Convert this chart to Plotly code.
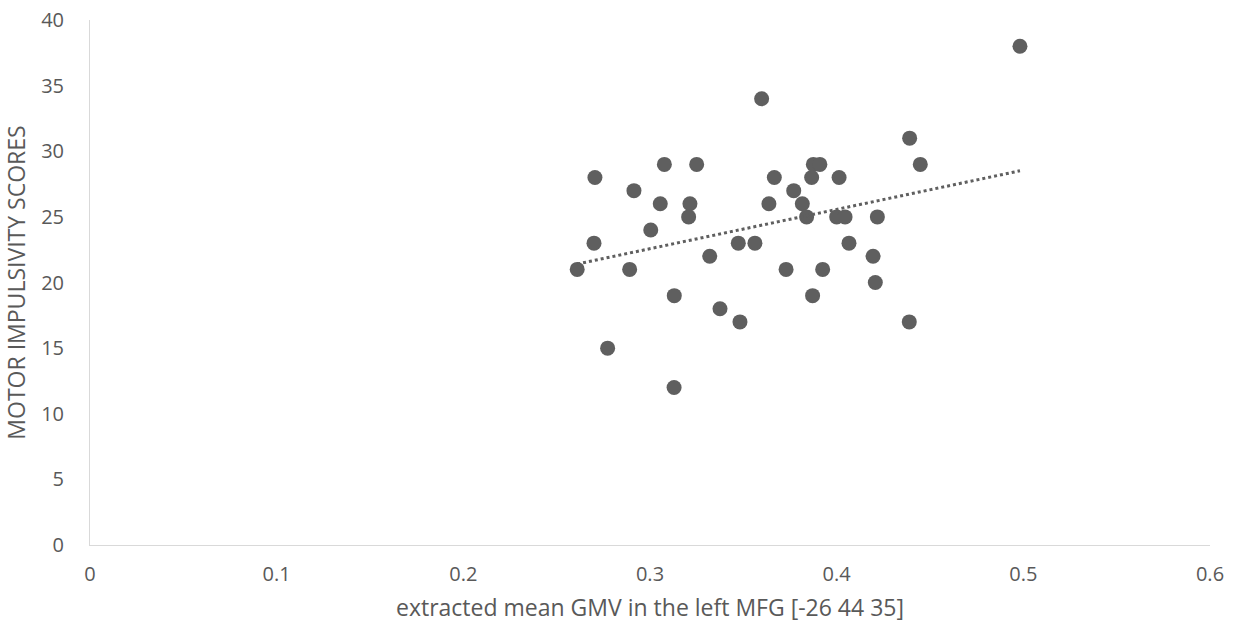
import numpy as np
import plotly.graph_objects as go

gmv = [0.3598, 0.3077, 0.3250, 0.3875, 0.3910, 0.2705, 0.3666, 0.3866, 0.4013,
       0.2914, 0.3770, 0.3055, 0.3214, 0.3637, 0.3816, 0.3207, 0.3839, 0.4000,
       0.4045, 0.4218, 0.3004, 0.2700, 0.3473, 0.3562, 0.4066, 0.3320, 0.4195,
       0.2610, 0.2891, 0.3729, 0.3925, 0.4207, 0.3130, 0.3871, 0.3375, 0.3482,
       0.4389, 0.2773, 0.3129, 0.4391, 0.4448, 0.4982]
scores = [34, 29, 29, 29, 29, 28, 28, 28, 28,
          27, 27, 26, 26, 26, 26, 25, 25, 25,
          25, 25, 24, 23, 23, 23, 23, 22, 22,
          21, 21, 21, 21, 20, 19, 19, 18, 17,
          17, 15, 12, 31, 29, 38]

x_ticks = [0, 0.1, 0.2, 0.3, 0.4, 0.5, 0.6]
x_tick_text = ["0", "0.1", "0.2", "0.3", "0.4", "0.5", "0.6"]
y_ticks = [0, 5, 10, 15, 20, 25, 30, 35, 40]

slope, intercept = np.polyfit(gmv, scores, 1)
tx = np.array([min(gmv), max(gmv)])
ty = slope * tx + intercept

grey = "#5f5f5f"
fig = go.Figure()
fig.add_trace(go.Scatter(x=gmv, y=scores, mode="markers",
                         marker=dict(size=15, color=grey, line=dict(width=0)),
                         showlegend=False))
fig.add_trace(go.Scatter(x=tx, y=ty, mode="lines",
                         line=dict(color=grey, width=3, dash="dot"),
                         showlegend=False))

font = "'Open Sans', sans-serif"
fig.update_layout(
    width=1238, height=630,
    margin=dict(l=90, r=28, t=20, b=85),
    plot_bgcolor="white", paper_bgcolor="white",
    font=dict(family=font, color="#595959", size=20),
    xaxis=dict(range=[0, 0.6], tickvals=x_ticks, ticktext=x_tick_text,
               showgrid=False, zeroline=False, showline=True, automargin=False,
               linecolor="#d9d9d9", linewidth=1, ticks="", ticklabelstandoff=11,
               title=dict(text="extracted mean GMV in the left MFG [-26 44 35]",
                          font=dict(size=23), standoff=13)),
    yaxis=dict(range=[0, 40], tickvals=y_ticks,
               showgrid=False, zeroline=False, showline=True, automargin=False,
               linecolor="#d9d9d9", linewidth=1, ticks="", ticklabelstandoff=21,
               title=dict(text="MOTOR IMPULSIVITY SCORES", font=dict(size=23), standoff=17)),
)
fig.write_html("out.html")
